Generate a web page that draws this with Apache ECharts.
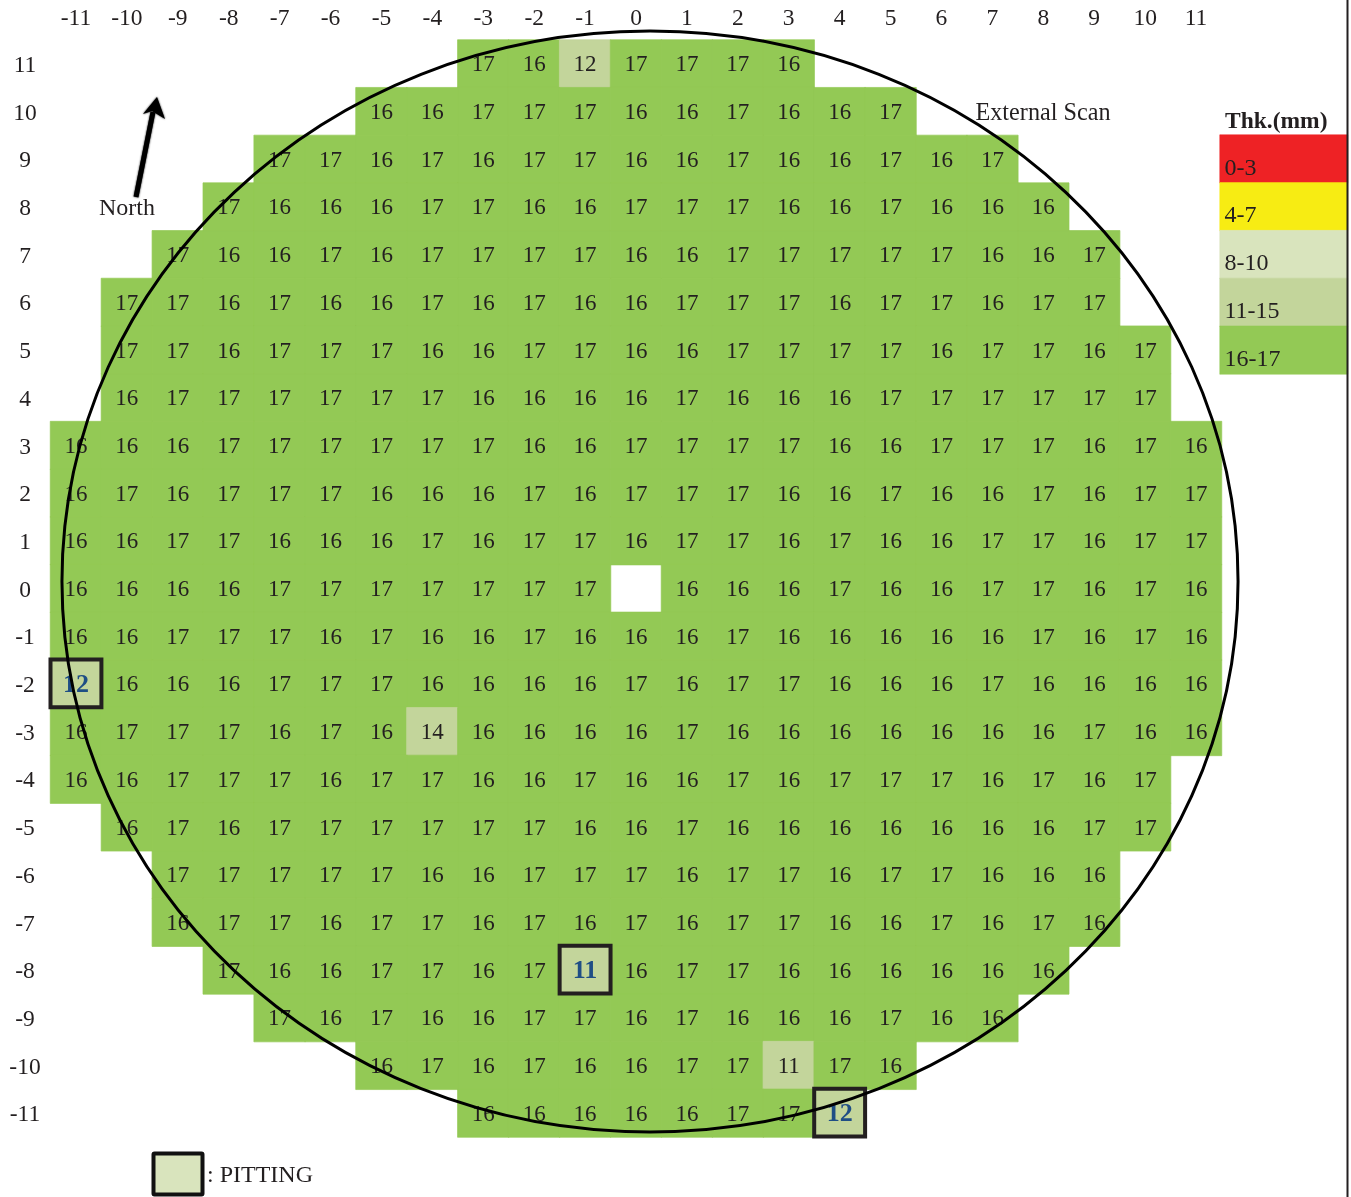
<!DOCTYPE html>
<html>
<head>
<meta charset="utf-8">
<style>html,body{margin:0;padding:0;background:#fff;overflow:hidden}#c{width:1351px;height:1197px}</style>
<script src="https://cdn.jsdelivr.net/npm/echarts@6/dist/echarts.min.js"></script>
</head>
<body>
<div id="c"></div>
<script>
const xTicks = [-11,-10,-9,-8,-7,-6,-5,-4,-3,-2,-1,0,1,2,3,4,5,6,7,8,9,10,11];
const yTicks = [-11,-10,-9,-8,-7,-6,-5,-4,-3,-2,-1,0,1,2,3,4,5,6,7,8,9,10,11];

// each row: first x position, then the readings from left to right
const rowP11 = [-3, 17,16,12,17,17,17,16];
const rowP10 = [-5, 16,16,17,17,17,16,16,17,16,16,17];
const rowP9  = [-7, 17,17,16,17,16,17,17,16,16,17,16,16,17,16,17];
const rowP8  = [-8, 17,16,16,16,17,17,16,16,17,17,17,16,16,17,16,16,16];
const rowP7  = [-9, 17,16,16,17,16,17,17,17,17,16,16,17,17,17,17,17,16,16,17];
const rowP6  = [-10, 17,17,16,17,16,16,17,16,17,16,16,17,17,17,16,17,17,16,17,17];
const rowP5  = [-10, 17,17,16,17,17,17,16,16,17,17,16,16,17,17,17,17,16,17,17,16,17];
const rowP4  = [-10, 16,17,17,17,17,17,17,16,16,16,16,17,16,16,16,17,17,17,17,17,17];
const rowP3  = [-11, 16,16,16,17,17,17,17,17,17,16,16,17,17,17,17,16,16,17,17,17,16,17,16];
const rowP2  = [-11, 16,17,16,17,17,17,16,16,16,17,16,17,17,17,16,16,17,16,16,17,16,17,17];
const rowP1  = [-11, 16,16,17,17,16,16,16,17,16,17,17,16,17,17,16,17,16,16,17,17,16,17,17];
const row0   = [-11, 16,16,16,16,17,17,17,17,17,17,17,null,16,16,16,17,16,16,17,17,16,17,16];
const rowN1  = [-11, 16,16,17,17,17,16,17,16,16,17,16,16,16,17,16,16,16,16,16,17,16,17,16];
const rowN2  = [-11, 12,16,16,16,17,17,17,16,16,16,16,17,16,17,17,16,16,16,17,16,16,16,16];
const rowN3  = [-11, 16,17,17,17,16,17,16,14,16,16,16,16,17,16,16,16,16,16,16,16,17,16,16];
const rowN4  = [-11, 16,16,17,17,17,16,17,17,16,16,17,16,16,17,16,17,17,17,16,17,16,17];
const rowN5  = [-10, 16,17,16,17,17,17,17,17,17,16,16,17,16,16,16,16,16,16,16,17,17];
const rowN6  = [-9, 17,17,17,17,17,16,16,17,17,17,16,17,17,16,17,17,16,16,16];
const rowN7  = [-9, 16,17,17,16,17,17,16,17,16,17,16,17,17,16,16,17,16,17,16];
const rowN8  = [-8, 17,16,16,17,17,16,17,11,16,17,17,16,16,16,16,16,16];
const rowN9  = [-7, 17,16,17,16,16,17,17,16,17,16,16,16,17,16,16];
const rowN10 = [-5, 16,17,16,17,16,16,17,17,11,17,16];
const rowN11 = [-3, 16,16,16,16,16,17,17,12];

const rowYs = [11,10,9,8,7,6,5,4,3,2,1,0,-1,-2,-3,-4,-5,-6,-7,-8,-9,-10,-11];
const allRows = [rowP11,rowP10,rowP9,rowP8,rowP7,rowP6,rowP5,rowP4,rowP3,rowP2,rowP1,row0,
                 rowN1,rowN2,rowN3,rowN4,rowN5,rowN6,rowN7,rowN8,rowN9,rowN10,rowN11];

const pittingCells = [[-11,-2],[-1,-8],[4,-11]];

const bandLabels = ['0-3','4-7','8-10','11-15','16-17'];
const bandLows   = [0,4,8,11,16];
const bandHighs  = [3,7,10,15,17];
const bandColors = ['#ee2225','#f7ec13','#d9e4bd','#c3d59b','#93c955'];

// scan circle, in cell units from the centre cell
const circleCell = [0,0];
const circleOffset = [0.275,0.147];
const circleRadius = [11.55,11.54];

const serif = '"Liberation Serif", serif';
const ink = '#231f20';
const isPit = (x,y) => pittingCells.some(c => c[0]===x && c[1]===y);
const colorOf = v => bandColors[bandLows.findIndex((low,i) => v>=low && v<=bandHighs[i])];

const cells = [];
allRows.forEach((row,i) => {
  const y = rowYs[i], start = row[0];
  row.slice(1).forEach((v,j) => {
    if (v === null) return;
    const x = start + j;
    const item = {value:[x+11, y+11, v], itemStyle:{borderColor:colorOf(v), borderWidth:0.7}};
    if (isPit(x,y)) item.label = {fontWeight:'bold', color:'#1f4e85', fontSize:26};
    cells.push(item);
  });
});

const keyCells = bandLabels.map((t,i) => ({value:[0,i,bandLows[i]], name:t,
  itemStyle:{borderColor:bandColors[i], borderWidth:0.5}}));

const chart = echarts.init(document.getElementById('c'), null, {renderer:'canvas', width:1351, height:1197});
chart.setOption({
  animation:false,
  backgroundColor:'#fff',
  textStyle:{fontFamily:serif},
  grid:[
    {left:50.5, top:40, width:1171, height:1097, containLabel:false},
    {left:1220, top:135, width:127.5, height:239, containLabel:false}
  ],
  xAxis:[
    {type:'category', gridIndex:0, position:'top', data:xTicks.map(String),
     axisLine:{show:false}, axisTick:{show:false}, splitLine:{show:false},
     axisLabel:{interval:0, margin:9, color:ink, fontSize:23.5, fontFamily:serif, hideOverlap:false}},
    {type:'category', gridIndex:1, data:['key'], show:false}
  ],
  yAxis:[
    {type:'category', gridIndex:0, data:yTicks.map(String),
     axisLine:{show:false}, axisTick:{show:false}, splitLine:{show:false},
     axisLabel:{interval:0, margin:25.5, align:'center', color:ink, fontSize:23.5, fontFamily:serif, hideOverlap:false,
       formatter:v => '{t|'+v+'}',
       rich:{t:{color:ink, fontSize:23.5, fontFamily:serif, padding:[4,0,0,0]}}}},
    {type:'category', gridIndex:1, inverse:true, data:bandLabels, show:false}
  ],
  visualMap:{
    show:false, type:'piecewise', dimension:2, seriesIndex:[0,1],
    pieces:bandLabels.map((t,i) => ({min:bandLows[i], max:bandHighs[i], color:bandColors[i]}))
  },
  series:[
    {type:'heatmap', xAxisIndex:0, yAxisIndex:0, data:cells, silent:true, progressive:0,
     label:{show:true, color:ink, fontSize:23, fontFamily:serif, offset:[0,1.5], formatter:p => p.value[2]},
     emphasis:{disabled:true}},
    {type:'heatmap', xAxisIndex:1, yAxisIndex:1, data:keyCells, silent:true, progressive:0,
     label:{show:true, position:'insideBottomLeft', distance:3, offset:[2,0], color:ink, fontSize:24, fontFamily:serif,
            formatter:p => p.name},
     emphasis:{disabled:true}},
    {type:'custom', coordinateSystem:'cartesian2d', xAxisIndex:0, yAxisIndex:0, silent:true, z:5,
     data:pittingCells.map(c => [c[0]+11, c[1]+11]),
     renderItem:(params,api) => {
       const p = api.coord([api.value(0), api.value(1)]), s = api.size([1,1]);
       return {type:'rect',
         shape:{x:p[0]-s[0]/2, y:p[1]-s[1]/2-0.5, width:s[0], height:s[1]},
         style:{fill:'rgba(0,0,0,0)', stroke:ink, lineWidth:4}};
     }},
    {type:'custom', coordinateSystem:'cartesian2d', xAxisIndex:0, yAxisIndex:0, silent:true, z:6,
     data:[[circleCell[0]+11, circleCell[1]+11]],
     renderItem:(params,api) => {
       const p = api.coord([api.value(0), api.value(1)]), s = api.size([1,1]);
       return {type:'ellipse',
         shape:{cx:p[0]+circleOffset[0]*s[0], cy:p[1]-circleOffset[1]*s[1],
                rx:circleRadius[0]*s[0], ry:circleRadius[1]*s[1]},
         style:{fill:'rgba(0,0,0,0)', stroke:'#000', lineWidth:3}};
     }}
  ],
  graphic:[
    {type:'text', z:10, silent:true, style:{x:127, y:209, text:'North', font:'24px '+serif, fill:ink, align:'center', verticalAlign:'middle'}},
    {type:'text', z:10, silent:true, style:{x:1043, y:114, text:'External Scan', font:'24.2px '+serif, fill:ink, align:'center', verticalAlign:'middle'}},
    {type:'text', z:10, silent:true, style:{x:1225, y:122, text:'Thk.(mm)', font:'bold 23.5px '+serif, fill:ink, align:'left', verticalAlign:'middle'}},
    {type:'text', z:10, silent:true, style:{x:207, y:1176, text:': PITTING', font:'24px '+serif, fill:ink, align:'left', verticalAlign:'middle'}},
    {type:'rect', z:10, silent:true, shape:{x:153.5, y:1153.5, width:49, height:41, r:1},
     style:{fill:bandColors[2], stroke:'#111', lineWidth:4}},
    {type:'line', z:10, silent:true, shape:{x1:1347.5, y1:0, x2:1347.5, y2:1197}, style:{stroke:ink, lineWidth:2}},
    {type:'line', z:10, silent:true, shape:{x1:136, y1:197, x2:153, y2:112},
     style:{stroke:'#000', lineWidth:5, shadowBlur:2, shadowColor:'#000'}},
    {type:'polygon', z:10, silent:true, shape:{points:[[157,97],[143,114],[152,111],[165,119]]},
     style:{fill:'#000', shadowBlur:2, shadowColor:'#000'}}
  ]
});
</script>
</body>
</html>
